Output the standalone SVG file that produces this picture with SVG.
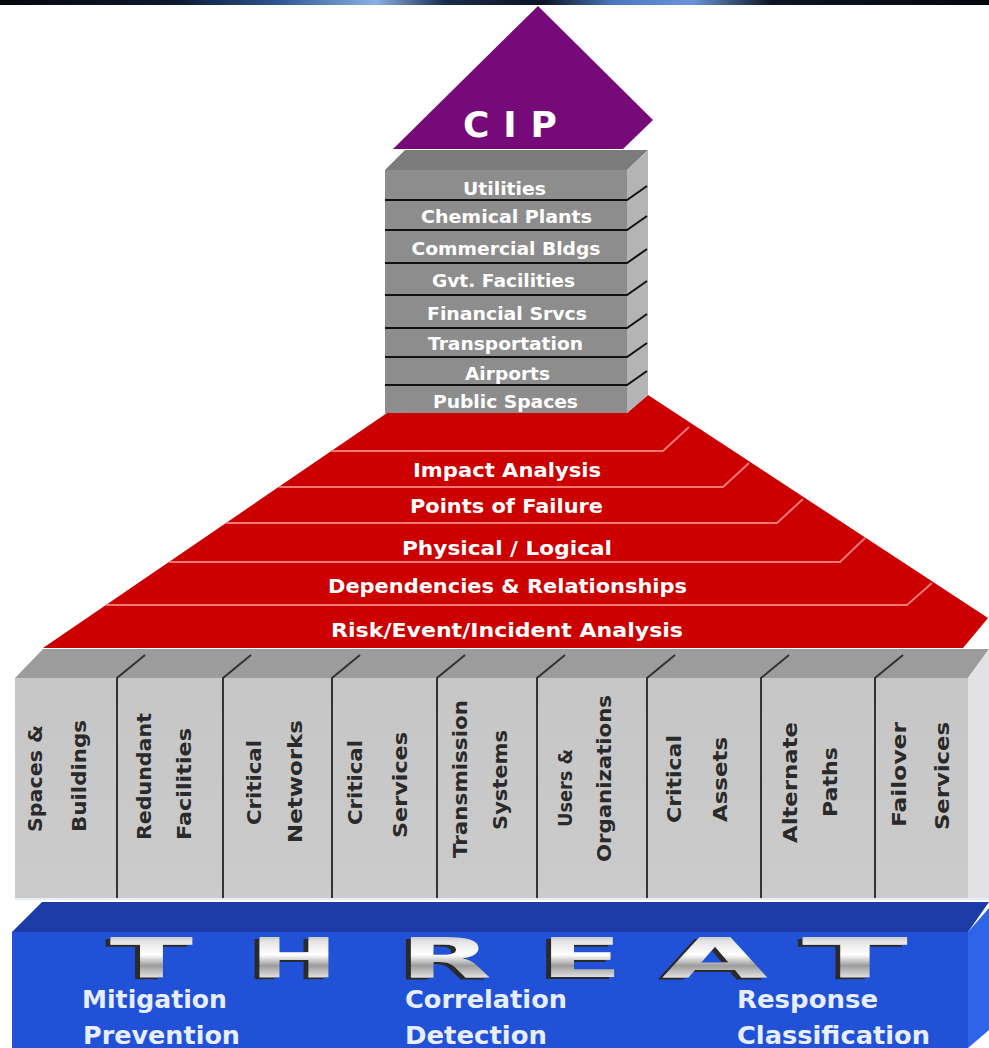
<svg xmlns="http://www.w3.org/2000/svg" width="989" height="1048" viewBox="0 0 989 1048">
<defs>
<linearGradient id="banner" x1="0" y1="0" x2="1" y2="0">
<stop offset="0" stop-color="#05070d"/>
<stop offset="0.18" stop-color="#0d1a33"/>
<stop offset="0.28" stop-color="#2d5590"/>
<stop offset="0.38" stop-color="#8ab0e6"/>
<stop offset="0.45" stop-color="#1a2c4c"/>
<stop offset="0.55" stop-color="#0c1426"/>
<stop offset="0.62" stop-color="#4a78c0"/>
<stop offset="0.7" stop-color="#6a94d8"/>
<stop offset="0.78" stop-color="#0d1525"/>
<stop offset="1" stop-color="#05070d"/>
</linearGradient>
<linearGradient id="metal" x1="0" y1="0" x2="0" y2="1">
<stop offset="0" stop-color="#8e8e8e"/>
<stop offset="0.25" stop-color="#e6e6e6"/>
<stop offset="0.45" stop-color="#ffffff"/>
<stop offset="0.62" stop-color="#9c9c9c"/>
<stop offset="0.8" stop-color="#e0e0e0"/>
<stop offset="1" stop-color="#bdbdbd"/>
</linearGradient>
<linearGradient id="pillarFront" x1="0" y1="0" x2="0" y2="1">
<stop offset="0" stop-color="#c6c6c6"/>
<stop offset="1" stop-color="#cbcbcb"/>
</linearGradient>
<filter id="extrude" x="-20%" y="-20%" width="140%" height="140%">
<feOffset in="SourceAlpha" dx="-5" dy="2" result="off"/>
<feFlood flood-color="#2a2a2a"/>
<feComposite in2="off" operator="in" result="shadow"/>
<feMerge><feMergeNode in="shadow"/><feMergeNode in="SourceGraphic"/></feMerge>
</filter>
</defs>
<style>
.stk{font-family:"DejaVu Sans","Verdana",sans-serif;font-weight:bold;font-size:17px;fill:#ffffff;text-anchor:middle}
.band{font-family:"DejaVu Sans","Verdana",sans-serif;font-weight:bold;font-size:20px;fill:#ffffff;text-anchor:middle}
.pil{font-family:"DejaVu Sans","Verdana",sans-serif;font-weight:bold;font-size:19px;fill:#2a2a2a;text-anchor:middle}
.base{font-family:"DejaVu Sans","Verdana",sans-serif;font-weight:bold;font-size:24px;fill:#e6eeff}
.thr{font-family:"DejaVu Sans","Verdana",sans-serif;font-weight:bold;font-size:55px;fill:url(#metal);filter:url(#extrude)}
.rowline{stroke:#111;stroke-width:2;fill:none}
.bandline{stroke:#f27878;stroke-width:2;fill:none}
.div{stroke:#333;stroke-width:2;fill:none}
</style>
<rect x="0" y="0" width="989" height="1048" fill="#ffffff"/>
<rect id="banner-strip" x="0" y="0" width="989" height="5" fill="url(#banner)"/>

<g id="threat-base">
<polygon points="12,932 42,902 989,902 968,932" fill="#1c3ca6"/>
<polygon points="12,932 968,932 968,1048 12,1048" fill="#2151d6"/>
<polygon points="968,932 989,908 989,1030 968,1048" fill="#2e64ea"/>
<text class="thr" x="110" y="977" textLength="83" lengthAdjust="spacingAndGlyphs">T</text>
<text class="thr" x="250" y="977" textLength="88" lengthAdjust="spacingAndGlyphs">H</text>
<text class="thr" x="400" y="977" textLength="92" lengthAdjust="spacingAndGlyphs">R</text>
<text class="thr" x="540" y="977" textLength="83" lengthAdjust="spacingAndGlyphs">E</text>
<text class="thr" x="662" y="977" textLength="106" lengthAdjust="spacingAndGlyphs">A</text>
<text class="thr" x="802" y="977" textLength="106" lengthAdjust="spacingAndGlyphs">T</text>
<text class="base" x="82" y="1008" textLength="145" lengthAdjust="spacingAndGlyphs">Mitigation</text>
<text class="base" x="83" y="1044" textLength="157" lengthAdjust="spacingAndGlyphs">Prevention</text>
<text class="base" x="405" y="1008" textLength="162" lengthAdjust="spacingAndGlyphs">Correlation</text>
<text class="base" x="405" y="1044" textLength="142" lengthAdjust="spacingAndGlyphs">Detection</text>
<text class="base" x="737" y="1008" textLength="141" lengthAdjust="spacingAndGlyphs">Response</text>
<text class="base" x="737" y="1044" textLength="193" lengthAdjust="spacingAndGlyphs">Classification</text>
</g>

<g id="pillars">
<polygon points="15,678 43,649 989,649 968,678" fill="#9c9c9c"/>
<rect x="15" y="678" width="953" height="220" fill="url(#pillarFront)"/>
<polygon points="968,678 989,650 989,898 968,898" fill="#e2e2e4"/>
<line x1="15" y1="899" x2="989" y2="899" stroke="#e8eef8" stroke-width="2"/>
<path class="div" d="M117,898V678L145,655M223,898V678L251,655M332,898V678L360,655M437,898V678L465,655M537,898V678L565,655M647,898V678L675,655M761,898V678L789,655M875,898V678L903,655"/>
<g id="pillar-spaces"><text class="pil" transform="translate(42,778.5) rotate(-90)" textLength="107" lengthAdjust="spacingAndGlyphs">Spaces &amp;</text><text class="pil" transform="translate(86,776) rotate(-90)" textLength="112" lengthAdjust="spacingAndGlyphs">Buildings</text></g>
<g id="pillar-redundant"><text class="pil" transform="translate(151,776.5) rotate(-90)" textLength="127" lengthAdjust="spacingAndGlyphs">Redundant</text><text class="pil" transform="translate(191,784) rotate(-90)" textLength="112" lengthAdjust="spacingAndGlyphs">Facilities</text></g>
<g id="pillar-networks"><text class="pil" transform="translate(261,782.5) rotate(-90)" textLength="85" lengthAdjust="spacingAndGlyphs">Critical</text><text class="pil" transform="translate(302,781.5) rotate(-90)" textLength="123" lengthAdjust="spacingAndGlyphs">Networks</text></g>
<g id="pillar-services"><text class="pil" transform="translate(362,782.5) rotate(-90)" textLength="85" lengthAdjust="spacingAndGlyphs">Critical</text><text class="pil" transform="translate(407,785) rotate(-90)" textLength="106" lengthAdjust="spacingAndGlyphs">Services</text></g>
<g id="pillar-transmission"><text class="pil" transform="translate(467,779) rotate(-90)" textLength="158" lengthAdjust="spacingAndGlyphs">Transmission</text><text class="pil" transform="translate(507,780) rotate(-90)" textLength="100" lengthAdjust="spacingAndGlyphs">Systems</text></g>
<g id="pillar-users"><text class="pil" transform="translate(572,788) rotate(-90)" textLength="78" lengthAdjust="spacingAndGlyphs">Users &amp;</text><text class="pil" transform="translate(611,778.5) rotate(-90)" textLength="167" lengthAdjust="spacingAndGlyphs">Organizations</text></g>
<g id="pillar-assets"><text class="pil" transform="translate(681,779) rotate(-90)" textLength="88" lengthAdjust="spacingAndGlyphs">Critical</text><text class="pil" transform="translate(727,779.5) rotate(-90)" textLength="85" lengthAdjust="spacingAndGlyphs">Assets</text></g>
<g id="pillar-paths"><text class="pil" transform="translate(797,782.5) rotate(-90)" textLength="121" lengthAdjust="spacingAndGlyphs">Alternate</text><text class="pil" transform="translate(837,782) rotate(-90)" textLength="70" lengthAdjust="spacingAndGlyphs">Paths</text></g>
<g id="pillar-failover"><text class="pil" transform="translate(906,774.5) rotate(-90)" textLength="105" lengthAdjust="spacingAndGlyphs">Failover</text><text class="pil" transform="translate(949,776) rotate(-90)" textLength="108" lengthAdjust="spacingAndGlyphs">Services</text></g>
</g>

<g id="analysis-pyramid">
<polygon points="387,413 627,413 648,395 988,618 963,648 43,648" fill="#cc0000"/>
<path class="bandline" d="M331,451H663L689,427M279,487H723L749,463M226,523H777L803,499M169,562H840L865,538M106,605H907L932,583"/>
<g id="band-impact"><text class="band" x="507" y="477" textLength="188" lengthAdjust="spacingAndGlyphs">Impact Analysis</text></g>
<g id="band-points"><text class="band" x="506.5" y="513" textLength="193" lengthAdjust="spacingAndGlyphs">Points of Failure</text></g>
<g id="band-physical"><text class="band" x="507" y="555" textLength="210" lengthAdjust="spacingAndGlyphs">Physical / Logical</text></g>
<g id="band-dependencies"><text class="band" x="507.5" y="593" textLength="359" lengthAdjust="spacingAndGlyphs">Dependencies &amp; Relationships</text></g>
<g id="band-risk"><text class="band" x="507" y="637" textLength="352" lengthAdjust="spacingAndGlyphs">Risk/Event/Incident Analysis</text></g>
</g>

<g id="sector-stack">
<polygon points="385,170 405,150 648,150 627,170" fill="#7b7b7b"/>
<rect x="385" y="170" width="242" height="243" fill="#8d8d8d"/>
<polygon points="627,170 648,150 648,395 627,413" fill="#b4b4b4"/>
<path class="rowline" d="M385,200H627L647,186M385,230H627L647,216M385,263H627L647,249M385,295H627L647,281M385,328H627L647,314M385,357H627L647,343M385,385H627L647,371"/>
<g id="row-utilities"><text class="stk" x="504.5" y="195" textLength="83" lengthAdjust="spacingAndGlyphs">Utilities</text></g>
<g id="row-chemical"><text class="stk" x="506.5" y="223" textLength="171" lengthAdjust="spacingAndGlyphs">Chemical Plants</text></g>
<g id="row-commercial"><text class="stk" x="506" y="255" textLength="189" lengthAdjust="spacingAndGlyphs">Commercial Bldgs</text></g>
<g id="row-gvt"><text class="stk" x="503.5" y="287" textLength="143" lengthAdjust="spacingAndGlyphs">Gvt. Facilities</text></g>
<g id="row-financial"><text class="stk" x="507" y="320" textLength="160" lengthAdjust="spacingAndGlyphs">Financial Srvcs</text></g>
<g id="row-transportation"><text class="stk" x="505.5" y="350" textLength="155" lengthAdjust="spacingAndGlyphs">Transportation</text></g>
<g id="row-airports"><text class="stk" x="507.5" y="380" textLength="85" lengthAdjust="spacingAndGlyphs">Airports</text></g>
<g id="row-public"><text class="stk" x="505.5" y="408" textLength="145" lengthAdjust="spacingAndGlyphs">Public Spaces</text></g>
</g>

<g id="cip-roof">
<polygon points="393,149 538,6 653,120 623,149" fill="#760a78"/>
<text x="463" y="137" font-family="DejaVu Sans, Verdana, sans-serif" font-weight="bold" font-size="36" fill="#ffffff" textLength="94" lengthAdjust="spacing">CIP</text>
</g>

<g id="connectors"></g>
</svg>
